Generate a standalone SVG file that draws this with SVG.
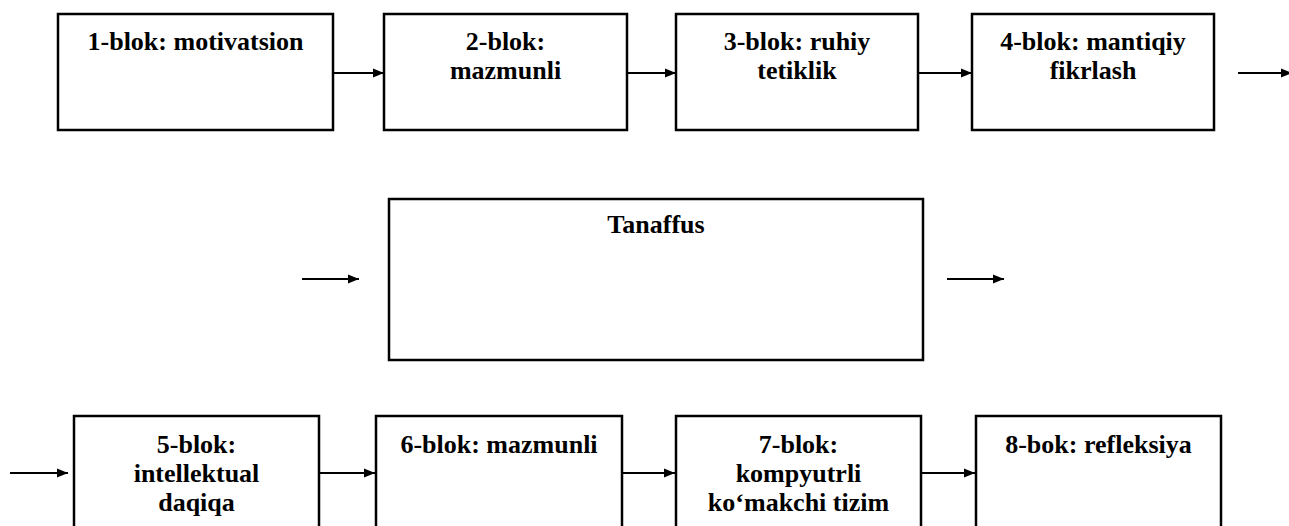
<svg xmlns="http://www.w3.org/2000/svg" width="1289" height="526" viewBox="0 0 1289 526">
<defs>
<marker id="ah" markerWidth="12" markerHeight="10" refX="11" refY="5" orient="auto" markerUnits="userSpaceOnUse">
<path d="M0,0.5 L11,5 L0,9.5 Z" fill="#000"/>
</marker>
<style>
.box{fill:#fff;stroke:#000;stroke-width:2.5}
.t{font-family:"Liberation Serif","Times New Roman",serif;font-weight:bold;font-size:26px;fill:#000;text-anchor:middle}
.c{stroke:#000;stroke-width:2;fill:none;marker-end:url(#ah)}
</style>
</defs>
<rect width="1289" height="526" fill="#fff"/>
<g id="b1"><rect class="box" x="58" y="14" width="275" height="116"/><text class="t" x="195.5" y="50">1-blok: motivatsion</text></g>
<g id="b2"><rect class="box" x="384" y="14" width="243" height="116"/><text class="t" x="505.5" y="50">2-blok:</text><text class="t" x="505.5" y="79">mazmunli</text></g>
<g id="b3"><rect class="box" x="676" y="14" width="242" height="116"/><text class="t" x="797" y="50">3-blok: ruhiy</text><text class="t" x="797" y="79">tetiklik</text></g>
<g id="b4"><rect class="box" x="972" y="14" width="242" height="116"/><text class="t" x="1093" y="50">4-blok: mantiqiy</text><text class="t" x="1093" y="79">fikrlash</text></g>
<g id="tanaffus"><rect class="box" x="389" y="199" width="534" height="161"/><text class="t" x="656" y="233">Tanaffus</text></g>
<g id="b5"><rect class="box" x="74" y="416" width="245" height="116"/><text class="t" x="196.5" y="453">5-blok:</text><text class="t" x="196.5" y="482">intellektual</text><text class="t" x="196.5" y="511">daqiqa</text></g>
<g id="b6"><rect class="box" x="376" y="416" width="246" height="116"/><text class="t" x="499" y="453">6-blok: mazmunli</text></g>
<g id="b7"><rect class="box" x="676" y="416" width="245" height="116"/><text class="t" x="798.5" y="453">7-blok:</text><text class="t" x="798.5" y="482">kompyutrli</text><text class="t" x="798.5" y="511">ko‘makchi tizim</text></g>
<g id="b8"><rect class="box" x="976" y="416" width="245" height="116"/><text class="t" x="1098.5" y="453">8-bok: refleksiya</text></g>
<g id="connectors">
<line class="c" x1="334" y1="73" x2="384" y2="73"/>
<line class="c" x1="628" y1="73" x2="676" y2="73"/>
<line class="c" x1="919" y1="73" x2="972" y2="73"/>
<line class="c" x1="1238" y1="73" x2="1292" y2="73"/>
<line class="c" x1="302" y1="279" x2="359" y2="279"/>
<line class="c" x1="947" y1="279" x2="1004" y2="279"/>
<line class="c" x1="10" y1="473" x2="68" y2="473"/>
<line class="c" x1="320" y1="473" x2="375" y2="473"/>
<line class="c" x1="623" y1="473" x2="675" y2="473"/>
<line class="c" x1="922" y1="473" x2="975" y2="473"/>
</g>
</svg>
